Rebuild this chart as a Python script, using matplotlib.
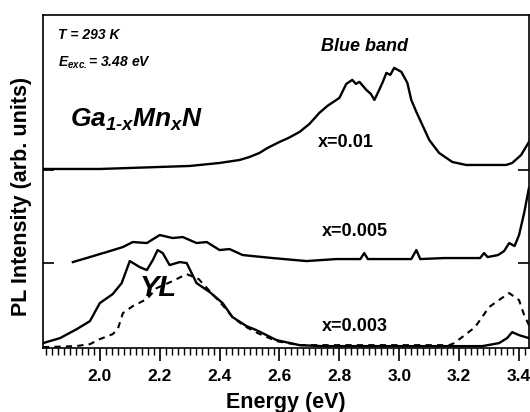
import matplotlib
matplotlib.use("Agg")
import matplotlib.pyplot as plt
from matplotlib.ticker import MultipleLocator

plt.rcParams['font.family'] = ['Liberation Sans', 'DejaVu Sans']
plt.rcParams['mathtext.fontset'] = 'custom'
plt.rcParams['mathtext.it'] = 'Liberation Sans:italic:bold'
plt.rcParams['mathtext.rm'] = 'Liberation Sans:italic:bold'
plt.rcParams['mathtext.bf'] = 'Liberation Sans:italic:bold'

# vertical offsets of the stacked spectra
offsets = [0, 85, 178]

# x = 0.01 (blue band)
e_01 = [1.81, 1.90, 2.00, 2.10, 2.20, 2.30, 2.40, 2.467, 2.50, 2.533, 2.56, 2.60, 2.63, 2.667,
        2.70, 2.733, 2.76, 2.80, 2.823, 2.843, 2.855, 2.867, 2.89, 2.905, 2.917, 2.933, 2.945,
        2.957, 2.97, 2.983, 2.995, 3.007, 3.027, 3.04, 3.057, 3.077, 3.10, 3.133, 3.177, 3.223,
        3.30, 3.357, 3.377, 3.407, 3.433]
i_01 = [1, 1, 1, 2, 3, 4, 7, 10, 13, 17, 22, 28, 32, 38,
        46, 57, 64, 72, 86, 90, 86, 88, 80, 76, 70, 80, 88,
        97, 95, 102, 100, 98, 87, 70, 58, 45, 30, 17, 8, 5,
        5, 5, 7, 15, 28]

# x = 0.005
e_005 = [1.91, 1.967, 2.00, 2.023, 2.077, 2.11, 2.157, 2.20, 2.243, 2.277, 2.323, 2.357, 2.40,
         2.433, 2.477, 2.577, 2.69, 2.79, 2.87, 2.883, 2.895, 3.04, 3.057, 3.07, 3.15, 3.27,
         3.283, 3.295, 3.33, 3.35, 3.367, 3.385, 3.40, 3.417, 3.433]
i_005 = [1, 6, 9, 11, 16, 21, 20, 28, 25, 26, 20, 21, 13,
         14, 8, 5, 2, 4, 4, 10, 4, 4, 13, 4, 5, 5,
         10, 6, 8, 12, 20, 17, 28, 50, 75]

# x = 0.003 (yellow luminescence)
e_003 = [1.81, 1.867, 1.923, 1.967, 2.00, 2.043, 2.073, 2.10, 2.133, 2.157, 2.177, 2.193, 2.21,
         2.233, 2.267, 2.29, 2.323, 2.367, 2.41, 2.443, 2.49, 2.523, 2.59, 2.667, 2.743, 3.277,
         3.333, 3.36, 3.377, 3.40, 3.433]
i_003 = [5, 10, 19, 27, 45, 54, 65, 87, 81, 78, 88, 98, 95,
         83, 86, 85, 65, 56, 45, 31, 22, 18, 8, 3, 2, 2,
         5, 10, 16, 13, 10]

# dashed reference spectrum
e_dash = [1.81, 1.92, 1.967, 2.00, 2.043, 2.06, 2.077, 2.11, 2.157, 2.19, 2.243, 2.29, 2.33,
          2.41, 2.443, 2.483, 2.527, 2.59, 2.667, 3.167, 3.183, 3.21, 3.253, 3.30, 3.323,
          3.367, 3.40, 3.417, 3.433]
i_dash = [1, 2, 4, 9, 14, 19, 35, 42, 49, 60, 67, 74, 69,
          43, 31, 22, 15, 7, 3, 3, 5, 11, 21, 41, 46,
          55, 48, 33, 23]

fig = plt.figure(figsize=(5.30, 4.12), dpi=100)
ax = fig.add_axes([0.081, 0.155, 0.917, 0.809])

lw = 1.7
ax.plot(e_003, [v + offsets[0] for v in i_003], color='black', lw=lw)
ax.plot(e_dash, [v + offsets[0] for v in i_dash], color='black', lw=1.5, ls=(0, (3, 2.5)))
ax.plot(e_005, [v + offsets[1] for v in i_005], color='black', lw=lw)
ax.plot(e_01, [v + offsets[2] for v in i_01], color='black', lw=lw)

ax.set_xlim(1.81, 3.433)
ax.set_ylim(0, 333)
ax.xaxis.set_major_locator(MultipleLocator(0.2))
ax.xaxis.set_minor_locator(MultipleLocator(0.02))
ax.set_yticks(offsets[1:])
ax.tick_params(axis='x', which='major', direction='out', length=9, width=1.2,
               labelsize=12.5, pad=6)
ax.tick_params(axis='x', which='minor', direction='out', length=5, width=1.0)
ax.tick_params(axis='y', direction='in', length=8, width=1.2, left=True, right=True,
               labelleft=False)
for lab in ax.get_xticklabels():
    lab.set_fontweight('bold')
for sp in ax.spines.values():
    sp.set_linewidth(1.2)

ax.set_xlabel('Energy (eV)', fontsize=15.5, fontweight='bold', labelpad=6)
ax.set_ylabel('PL Intensity (arb. units)', fontsize=15.5, fontweight='bold')
ax.yaxis.set_label_coords(-0.022, 0.456)

ax.text(1.86, 313, 'T = 293 K', fontsize=10, fontweight='bold', style='italic', va='center')
ax.text(1.86, 281, r'$E_{exc.}$= 3.48 eV', fontsize=10, fontweight='bold', style='italic',
        va='baseline')
ax.text(1.90, 221, r'$Ga_{1\text{-}x}Mn_{x}N$', fontsize=19, va='baseline')
ax.text(2.74, 301, 'Blue band', fontsize=13, fontweight='bold', style='italic', va='center')
ax.text(2.727, 205, 'x=0.01', fontsize=13, fontweight='bold', va='center')
ax.text(2.74, 117, 'x=0.005', fontsize=13, fontweight='bold', va='center')
ax.text(2.74, 22, 'x=0.003', fontsize=13, fontweight='bold', va='center')
ax.text(2.133, 60, 'YL', fontsize=21, fontweight='bold', style='italic', va='center')

fig.savefig('out.png', dpi=100)
